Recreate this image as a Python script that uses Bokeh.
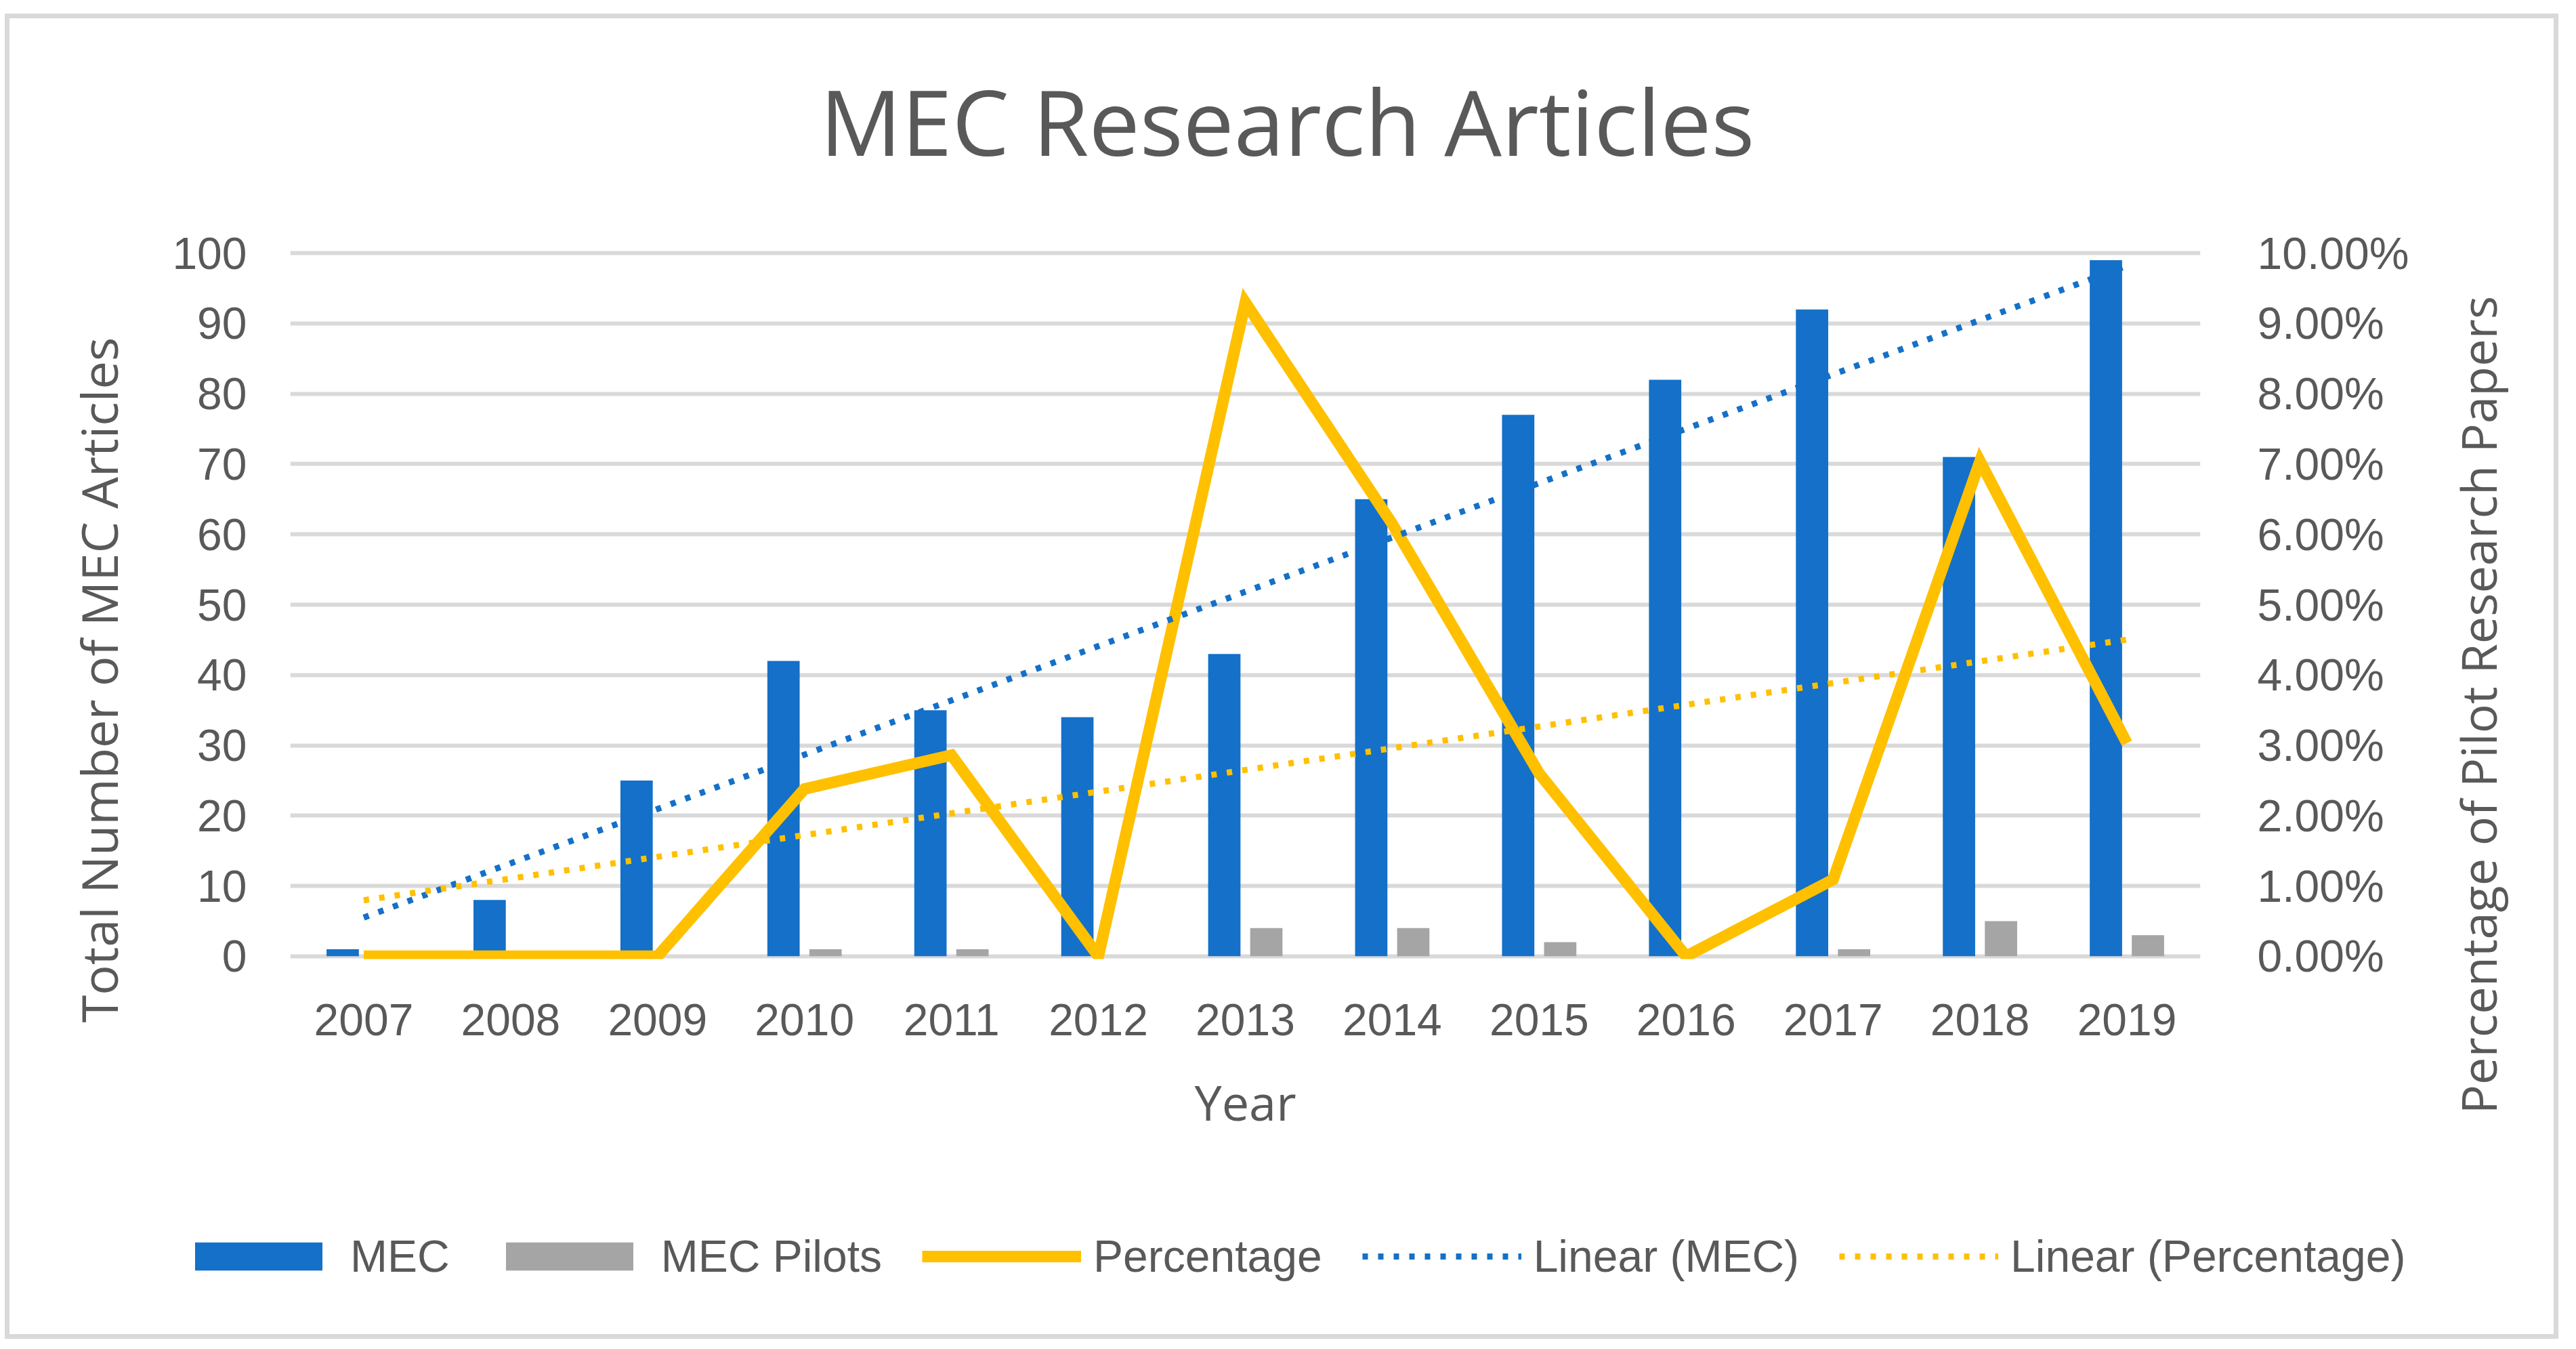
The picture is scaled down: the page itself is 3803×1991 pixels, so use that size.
import numpy as np
from bokeh.plotting import figure
from bokeh.layouts import column
from bokeh.models import (FactorRange, Range1d, LinearAxis, FixedTicker, PrintfTickFormatter,
                          Label, Legend, LegendItem, Title, ColumnDataSource)
from bokeh.transform import dodge
from bokeh.embed import file_html
from bokeh.resources import INLINE

# ---- data ----
years = ["2007", "2008", "2009", "2010", "2011", "2012", "2013",
         "2014", "2015", "2016", "2017", "2018", "2019"]
mec = [1, 8, 25, 42, 35, 34, 43, 65, 77, 82, 92, 71, 99]
mec_pilots = [0, 0, 0, 1, 1, 0, 4, 4, 2, 0, 1, 5, 3]
percentage = [0, 0, 0, 2.38, 2.86, 0, 9.30, 6.15, 2.60, 0, 1.09, 7.04, 3.03]
left_ticks = [0, 10, 20, 30, 40, 50, 60, 70, 80, 90, 100]
right_ticks = [0, 1, 2, 3, 4, 5, 6, 7, 8, 9, 10]
legend_labels = ["MEC", "MEC Pilots", "Percentage", "Linear (MEC)", "Linear (Percentage)"]

title_text = "MEC Research Articles"
x_title = "Year"
y_title = "Total Number of MEC Articles"
y2_title = "Percentage of Pilot Research Papers"

# Excel-style linear trendlines (least squares on category index)
idx = np.arange(1, len(years) + 1)
trend_mec = np.polyval(np.polyfit(idx, mec, 1), idx)
trend_pct = np.polyval(np.polyfit(idx, percentage, 1), idx)

BLUE = "#1470C8"
GRAY = "#A5A5A5"
ORANGE = "#FFC000"
TXT = "#595959"
GRID = "#D9D9D9"

src = ColumnDataSource(dict(year=years, idx=list(idx), mec=mec, pilots=mec_pilots, pct=percentage,
                            tmec=list(trend_mec), tpct=list(trend_pct)))

p = figure(x_range=FactorRange(*years), y_range=Range1d(-0.4, 100.4),
           frame_width=2820, frame_height=1046,
           min_border_left=414, min_border_right=522, min_border_top=342, min_border_bottom=365,
           output_backend="svg", toolbar_location=None)
p.outline_line_color = None
p.background_fill_color = "white"
p.border_fill_color = "white"
p.extra_y_ranges = {"pct": Range1d(-0.04, 10.04)}

# axes styling
p.yaxis.ticker = FixedTicker(ticks=left_ticks)
for ax in [p.xaxis[0], p.yaxis[0]]:
    ax.axis_line_color = None
    ax.major_tick_line_color = None
    ax.minor_tick_line_color = None
    ax.major_label_text_font = "Liberation Sans"
    ax.major_label_text_font_size = "66px"
    ax.major_label_text_color = TXT
p.yaxis.major_label_standoff = 58
p.xaxis.major_label_standoff = 60
p.xaxis.axis_label = x_title
p.xaxis.axis_label_text_font = "Open Sans"
p.xaxis.axis_label_text_font_size = "72px"
p.xaxis.axis_label_text_font_style = "normal"
p.xaxis.axis_label_text_color = TXT
p.xaxis.axis_label_standoff = 46

rax = LinearAxis(y_range_name="pct", ticker=FixedTicker(ticks=right_ticks),
                 formatter=PrintfTickFormatter(format="%.2f%%"))
rax.axis_line_color = None
rax.major_tick_line_color = None
rax.minor_tick_line_color = None
rax.major_label_text_font = "Liberation Sans"
rax.major_label_text_font_size = "66px"
rax.major_label_text_color = TXT
rax.major_label_standoff = 78
p.add_layout(rax, "right")

p.xgrid.grid_line_color = None
p.ygrid.ticker = FixedTicker(ticks=left_ticks)
p.ygrid.grid_line_color = GRID
p.ygrid.grid_line_width = 6

# glyphs
p.vbar(x=dodge("year", -0.143, range=p.x_range), top="mec", width=0.22,
       source=src, fill_color=BLUE, line_color=None)
p.vbar(x=dodge("year", 0.143, range=p.x_range), top="pilots", width=0.22,
       source=src, fill_color=GRAY, line_color=None)
p.line(x="year", y="pct", source=src, y_range_name="pct",
       line_color=ORANGE, line_width=17, line_join="miter")
p.line(x="year", y="tmec", source=src, line_color=BLUE, line_width=9, line_dash="8 15")
p.line(x="year", y="tpct", source=src, y_range_name="pct",
       line_color=ORANGE, line_width=9, line_dash="8 15")

# chart title (label in the top panel, centred on the chart)
p.add_layout(Label(x=1472, y=192, x_units="screen", y_units="screen", text=title_text,
                   text_font="Open Sans", text_font_size="134px", text_color=TXT,
                   text_align="center", text_baseline="alphabetic"), "above")

# left axis title (Title in left panel, shifted down like the reference)
p.add_layout(Title(text=y_title, align="left", offset=-94, vertical_align="bottom", standoff=112,
                   text_font="Open Sans", text_font_size="74px", text_font_style="normal",
                   text_color=TXT), "left")

# right axis title, reading bottom-to-top
p.add_layout(Label(x=98, y=375, x_units="screen", y_units="screen", text=y2_title, angle=np.pi / 2,
                   text_font="Open Sans", text_font_size="72px", text_color=TXT,
                   text_align="center", text_baseline="alphabetic"), "right")

# ---- legend strip below the chart (same series, kept outside this strip's view) ----
p2 = figure(width=3756, height=189, x_range=Range1d(-3, -2), y_range=Range1d(-3, -2), min_border=0,
            x_axis_location=None, y_axis_location=None,
            output_backend="svg", toolbar_location=None)
p2.outline_line_color = None
p2.grid.visible = False
p2.background_fill_color = "white"
p2.border_fill_color = "white"
l_mec = p2.vbar(x="idx", top="mec", width=0.22, source=src, fill_color=BLUE, line_color=None)
l_pil = p2.vbar(x="idx", top="pilots", width=0.22, source=src, fill_color=GRAY, line_color=None)
l_pct = p2.line(x="idx", y="pct", source=src, line_color=ORANGE, line_width=17)
l_tm = p2.line(x="idx", y="tmec", source=src, line_color=BLUE, line_width=9, line_dash="8 15")
l_tp = p2.line(x="idx", y="tpct", source=src, line_color=ORANGE, line_width=9, line_dash="8 15")

legend = Legend(items=[LegendItem(label=lab, renderers=[r]) for lab, r in
                       zip(legend_labels, [l_mec, l_pil, l_pct, l_tm, l_tp])],
                location=(250, 77), orientation="horizontal",
                glyph_width=235, glyph_height=52, label_standoff=18, spacing=59,
                padding=0, margin=0, border_line_color=None, background_fill_alpha=0,
                label_text_font="Liberation Sans", label_text_font_size="66px",
                label_text_color=TXT)
if "nrows" in Legend.properties():
    legend.nrows = 1
p2.add_layout(legend)

for fig in (p, p2):
    if "frame_align" in fig.properties():
        fig.frame_align = False

page = column(p, p2, spacing=0,
              styles={"margin": "27px 0px 0px 14px", "box-shadow": "0px 0px 0px 7px #D9D9D9"})

open("out.html", "w").write(file_html(page, INLINE))
